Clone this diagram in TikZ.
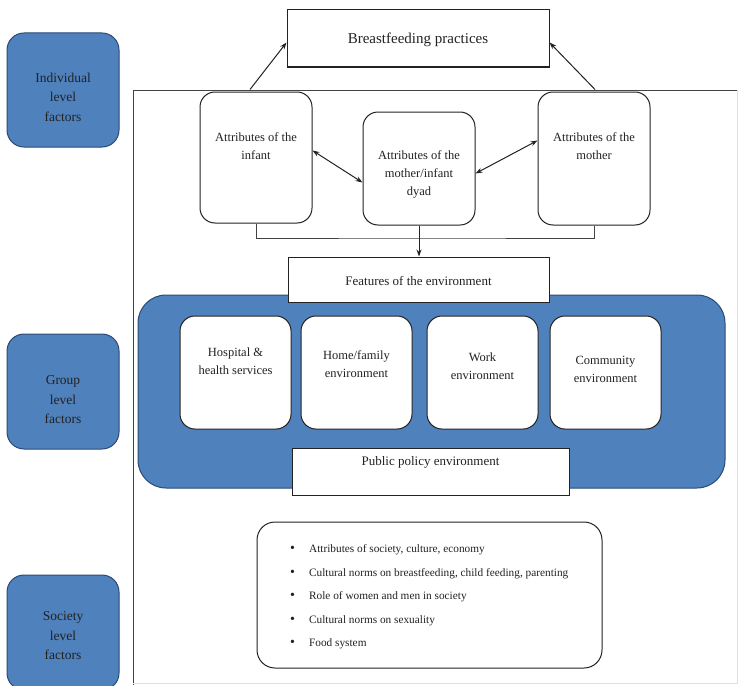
\documentclass[tikz,border=0pt]{standalone}
\usepackage{fontspec}
\setmainfont{Liberation Serif}
\usetikzlibrary{arrows.meta}
\definecolor{lvlblue}{HTML}{4F81BD}
\definecolor{lvledge}{HTML}{2C4A74}
\definecolor{ink}{HTML}{222222}
\newcommand{\bulletmark}{{\fontsize{14}{14}\selectfont\textbullet}}
\begin{document}
\begin{tikzpicture}[x=1pt,y=-1pt,
  box/.style={draw=ink, line width=1pt, fill=white, inner sep=0pt},
  rbox/.style={box, rounded corners=15pt},
  level/.style={draw=lvledge, line width=1pt, fill=lvlblue, rounded corners=17pt,
    inner sep=0pt, minimum width=112pt},
  lvltxt/.style={font=\fontsize{13.5}{19.5}\selectfont, align=center, text=ink},
  txt/.style={font=\fontsize{12.5}{18}\selectfont, align=center, text=ink},
  arr/.style={-{Stealth[length=7pt,width=5pt]}, line width=1pt, draw=ink},
  dbl/.style={{Stealth[length=7pt,width=5pt]}-{Stealth[length=7pt,width=5pt]}, line width=1pt, draw=ink},
  frame/.style={draw=ink!85, line width=1pt}
]
\useasboundingbox (0,0) rectangle (741,685);

% ---- level labels on the left ----
\node[level, minimum height=114pt] (ind) at (63,90) {};
\node[lvltxt] (indT) at (63,97) {Individual\\level\\factors};
\node[level, minimum height=115pt] (grp) at (63,391.5) {};
\node[lvltxt] (grpT) at (63,400) {Group\\level\\factors};
\node[level, minimum height=115pt] (soc) at (63,632.5) {};
\node[lvltxt] (socT) at (63,636) {Society\\level\\factors};

% ---- outer frame ----
\coordinate (fBL) at (133,685);
\coordinate (fTL) at (133,90);
\coordinate (fTR) at (737,90);
\coordinate (fBR) at (737,683);
\coordinate (fBB) at (133,683);
\draw[frame] (fBL) -- (fTL) -- (fTR);
\draw[black!12, line width=0.8pt] (fTR) -- (fBR) -- (fBB);

% ---- individual level ----
\node[box, minimum width=262pt, minimum height=57pt] (bf) at (418,38.5) {};
\node[font=\fontsize{15}{18}\selectfont, text=ink] (bfT) at (418,40) {Breastfeeding practices};

\node[rbox, minimum width=112pt, minimum height=131pt] (inf) at (256,157.5) {};
\node[txt] (infT) at (256,146) {Attributes of the\\infant};
\node[rbox, minimum width=112pt, minimum height=113pt] (dyad) at (419,168.5) {};
\node[txt] (dyadT) at (419,174) {Attributes of the\\mother/infant\\dyad};
\node[rbox, minimum width=112pt, minimum height=133pt] (mom) at (594,158.5) {};
\node[txt] (momT) at (594,146) {Attributes of the\\mother};

\draw[arr] ([xshift=-6pt,yshift=2pt]inf.north) -- ([yshift=-4pt]bf.west);
\draw[arr] ([xshift=1pt,yshift=2pt]mom.north) -- ([yshift=-4pt]bf.east);
\draw[dbl] ([yshift=7pt]inf.east) -- ([yshift=-14pt]dyad.west);
\draw[dbl] ([yshift=-5pt]dyad.east) -- ([yshift=18pt]mom.west);

% bracket joining the three attribute boxes
\coordinate (brk) at (419,238);
\draw[frame] (inf.south) |- (brk) -| (mom.south);

% ---- group level ----
\node[draw=lvledge, line width=1pt, fill=lvlblue, rounded corners=28pt,
      minimum width=587pt, minimum height=193pt, inner sep=0pt] (env) at (431.5,391.5) {};

\node[box, minimum width=261pt, minimum height=45pt] (feat) at (418.5,279.5) {};
\node[font=\fontsize{13}{15}\selectfont, text=ink] (featT) at (418.5,281) {Features of the environment};
\draw[arr] (dyad.south) -- (dyad.south |- feat.north);

\node[rbox, minimum width=111pt, minimum height=113pt] (hosp) at (235.5,372.5) {};
\node[txt] (hospT) at (235.5,361) {Hospital \&\\health services};
\node[rbox, minimum width=111pt, minimum height=113pt] (home) at (356.5,372.5) {};
\node[txt] (homeT) at (356.5,364) {Home/family\\environment};
\node[rbox, minimum width=111pt, minimum height=113pt] (work) at (482.5,372.5) {};
\node[txt] (workT) at (482.5,366) {Work\\environment};
\node[rbox, minimum width=111pt, minimum height=113pt] (comm) at (605.5,372.5) {};
\node[txt] (commT) at (605.5,369) {Community\\environment};

\node[box, minimum width=277pt, minimum height=47pt] (pp) at (430.5,471.5) {};
\node[font=\fontsize{13}{15}\selectfont, text=ink] (ppT) at (430.5,462) {Public policy environment};

% ---- society level ----
\node[box, rounded corners=18pt, minimum width=345pt, minimum height=146pt] (socbox) at (429.5,595) {};
\node[font=\fontsize{11.3}{23.5}\selectfont, align=left, text=ink, anchor=west, inner sep=0pt] (socT2) at (290,597)
  {\bulletmark\hspace{14pt}Attributes of society, culture, economy\\
   \bulletmark\hspace{14pt}Cultural norms on breastfeeding, child feeding, parenting\\
   \bulletmark\hspace{14pt}Role of women and men in society\\
   \bulletmark\hspace{14pt}Cultural norms on sexuality\\
   \bulletmark\hspace{14pt}Food system};
\end{tikzpicture}
\end{document}
